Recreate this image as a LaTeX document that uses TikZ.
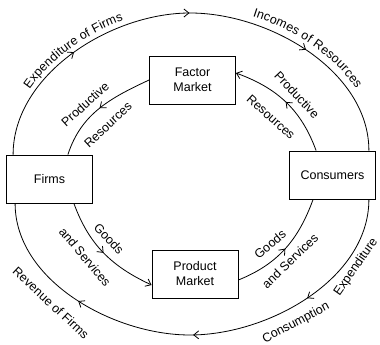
\documentclass[tikz,border=0pt]{standalone}
\usepackage{fontspec}
\setmainfont{Liberation Sans}
\usetikzlibrary{arrows.meta, decorations.markings, decorations.text, calc}
\newcommand{\flowfont}{\fontsize{12.5}{15}\selectfont}

\begin{document}
\begin{tikzpicture}[
    x=1pt, y=1pt,
    >={Straight Barb[length=5pt,width=8pt]},
    box/.style={rectangle, draw=black, line width=0.8pt, minimum width=86pt, minimum height=48pt, align=center, font=\flowfont},
    flow/.style={line width=0.8pt},
    flowtext/.style={font=\flowfont, inner sep=0pt},
    midarrow/.style={postaction={decorate}, decoration={markings, mark=at position 0.5 with {\arrow{>}}}},
    ringarrows/.style={postaction={decorate}, decoration={markings,
        mark=at position 0.25 with {\arrow{>}},
        mark=at position 0.5 with {\arrow{>}},
        mark=at position 0.75 with {\arrow{>}}}}
]
\useasboundingbox (0,0) rectangle (380,345);

% Sectors and markets
\node[box] (firms) at (49.5,166) {Firms};
\node[box] (consumers) at (332.5,170) {Consumers};
\node[box] (factor) at (192.5,265) {Factor\\Market};
\node[box] (product) at (195,71) {Product\\Market};

% Outer money flows
\coordinate (top) at (190,332);
\coordinate (bottom) at (190,10);
\draw[flow, ringarrows] ([xshift=7pt]firms.north west) to[out=90,in=180,looseness=0.9] (top) to[out=0,in=90,looseness=0.9] ([xshift=-7pt]consumers.north east);
\draw[flow, ringarrows] ([xshift=-7pt]consumers.south east) to[out=-90,in=0,looseness=0.9] (bottom) to[out=180,in=-90,looseness=0.9] ([xshift=9pt]firms.south west);

% Inner real flows
\draw[flow, midarrow] (factor.west) to[out=205,in=72] ([xshift=-25pt]firms.north east);
\draw[flow, midarrow, ->] ([xshift=27pt]consumers.north west) to[out=110,in=-20] ([yshift=7pt]factor.east);
\draw[flow, midarrow, ->] ([xshift=-19pt]firms.south east) to[out=-70,in=155] ([yshift=-11pt]product.west);
\draw[flow, midarrow] ([yshift=-6pt]product.east) to[out=22,in=-110] ([xshift=24pt]consumers.south west);

% Labels set along the outer ring
\path[decorate, decoration={text along path, text={|\flowfont|Expenditure of Firms}, text align=center, raise=5pt}]
    ([xshift=7pt]firms.north west) to[out=90,in=180,looseness=0.9] (top);
\path[decorate, decoration={text along path, text={|\flowfont|Incomes of Resources}, text align=center, raise=7pt}]
    (top) to[out=0,in=90,looseness=0.9] ([xshift=-7pt]consumers.north east);

% Flow labels
\node[flowtext, rotate=42] (prodleft) at (85,241) {Productive};
\node[flowtext, rotate=43] (resleft) at (108,220) {Resources};
\node[flowtext, rotate=-47] (prodright) at (297,250) {Productive};
\node[flowtext, rotate=-42] (resright) at (271,228) {Resources};
\node[flowtext, rotate=-47] (goodsleft) at (109,106) {Goods};
\node[flowtext, rotate=-50] (servleft) at (85,88) {and Services};
\node[flowtext, rotate=40] (goodsright) at (270,101) {Goods};
\node[flowtext, rotate=44] (servright) at (290,84) {and Services};
\node[flowtext, rotate=-43] (revfirms) at (51,42) {Revenue of Firms};
\node[flowtext, rotate=55] (conexp) at (356,78) {Expenditure};
\node[flowtext, rotate=28] (consum) at (296,22) {Consumption};

\end{tikzpicture}
\end{document}
